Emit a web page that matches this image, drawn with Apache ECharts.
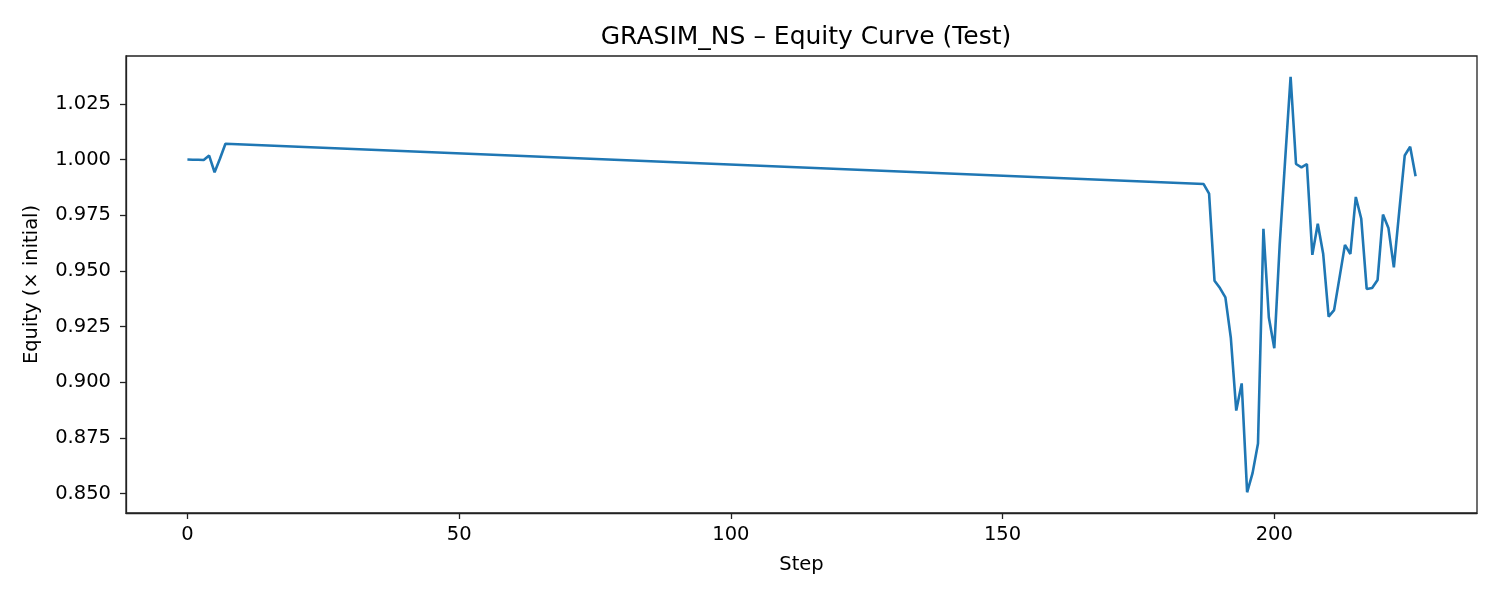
<!DOCTYPE html>
<html>
<head>
<meta charset="utf-8">
<title>GRASIM_NS Equity Curve</title>
<script src="https://cdn.jsdelivr.net/npm/echarts@6/dist/echarts.min.js"></script>
<style>
  html, body { margin: 0; padding: 0; background: #fff; }
  #chart { width: 1500px; height: 600px; }
</style>
</head>
<body>
<div id="chart"></div>
<script>
// test steps (flat stretch between 7 and 187 has no points in between)
var steps = [0, 1, 2, 3, 4, 5, 6, 7, 187, 188, 189, 190, 191, 192, 193, 194, 195, 196, 197,
  198, 199, 200, 201, 202, 203, 204, 205, 206, 207, 208, 209, 210, 211, 212, 213, 214,
  215, 216, 217, 218, 219, 220, 221, 222, 223, 224, 225, 226];
var equity = [1.0000, 0.9999, 0.9999, 0.9998, 1.0018, 0.9943, 1.0005, 1.0071, 0.9890, 0.9847,
  0.9456, 0.9423, 0.9381, 0.9200, 0.8873, 0.8995, 0.8506, 0.8592, 0.8725,
  0.9689, 0.9291, 0.9153, 0.9620, 1.0000, 1.0372, 0.9980, 0.9965, 0.9980, 0.9572, 0.9712,
  0.9576, 0.9295, 0.9324, 0.9470, 0.9617, 0.9576, 0.9832, 0.9734, 0.9419, 0.9423, 0.9459,
  0.9753, 0.9693, 0.9516, 0.9770, 1.0018, 1.0058, 0.9925];
var xTicks = [0, 50, 100, 150, 200];
var yTicks = [0.850, 0.875, 0.900, 0.925, 0.950, 0.975, 1.000, 1.025];

var points = steps.map(function (s, i) { return [s, equity[i]]; });

var chart = echarts.init(document.getElementById('chart'));
var font = 'DejaVu Sans';
var ink = '#000';
chart.setOption({
  animation: false,
  backgroundColor: '#fff',
  title: {
    text: 'GRASIM_NS \u2013 Equity Curve (Test)',
    left: 801, textAlign: 'center', top: 20,
    textStyle: { fontFamily: font, fontSize: 25, fontWeight: 'normal', color: ink }
  },
  grid: {
    left: 126, right: 23, top: 56, bottom: 87,
    show: true, borderColor: '#222', borderWidth: 1.3
  },
  xAxis: {
    type: 'value',
    min: -11.3, max: 237.3,
    name: 'Step', nameLocation: 'middle', nameGap: 42,
    nameTextStyle: { fontFamily: font, fontSize: 19.5, color: ink },
    splitLine: { show: false },
    axisLine: { show: true, onZero: false, lineStyle: { color: '#222', width: 1.3 } },
    axisTick: { show: true, length: 6, lineStyle: { color: '#222', width: 1.3 }, customValues: xTicks },
    axisLabel: { fontFamily: font, fontSize: 19.5, color: ink, margin: 12, customValues: xTicks }
  },
  yAxis: {
    type: 'value',
    min: 0.8413, max: 1.0465,
    name: 'Equity (\u00d7 initial)', nameLocation: 'middle', nameGap: 84,
    nameTextStyle: { fontFamily: font, fontSize: 19.5, color: ink },
    splitLine: { show: false },
    axisLine: { show: true, onZero: false, lineStyle: { color: '#222', width: 1.3 } },
    axisTick: { show: true, length: 6, lineStyle: { color: '#222', width: 1.3 }, customValues: yTicks },
    axisLabel: {
      fontFamily: font, fontSize: 19.5, color: ink, margin: 15, customValues: yTicks,
      formatter: function (v) { return v.toFixed(3); }
    }
  },
  series: [{
    type: 'line',
    data: points,
    showSymbol: false,
    lineStyle: { color: '#1f77b4', width: 2.6 },
    itemStyle: { color: '#1f77b4' }
  }]
});
</script>
</body>
</html>
